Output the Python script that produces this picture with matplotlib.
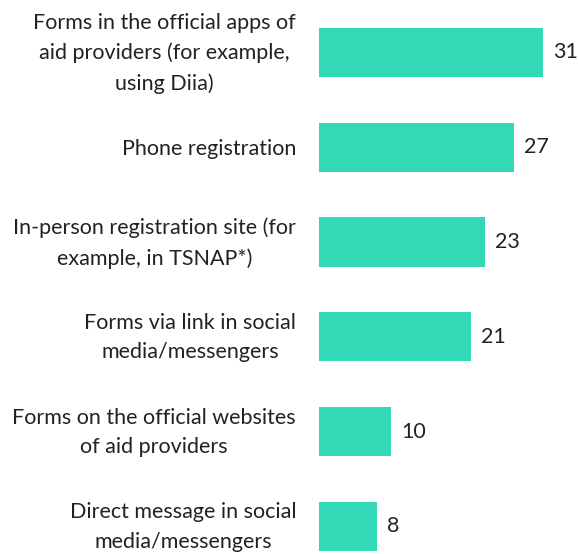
import matplotlib
matplotlib.use("Agg")
import matplotlib.pyplot as plt
from matplotlib.transforms import ScaledTranslation

categories = [
    "Forms in the official apps of\naid providers (for example,\nusing Diia)",
    "Phone registration",
    "In-person registration site (for\nexample, in TSNAP*)",
    "Forms via link in social\nmedia/messengers",
    "Forms on the official websites\nof aid providers",
    "Direct message in social\nmedia/messengers",
]
values = [31, 27, 23, 21, 10, 8]

BAR_COLOR = "#34D8B6"
TEXT_COLOR = "#222222"
FONT = "Lato"

fig = plt.figure(figsize=(5.78, 5.54), dpi=100)
ax = fig.add_axes([319 / 578, 0, 1 - 319 / 578, 1])

y = list(range(len(categories)))
bars = ax.barh(y, values, height=0.52, color=BAR_COLOR, edgecolor="none")

ax.set_xlim(0, 35.8)
ax.set_ylim(5.291, -0.553)

ax.set_yticks(y)
ax.set_yticklabels(categories, fontsize=15.5, family=FONT, color=TEXT_COLOR,
                   multialignment="center", linespacing=1.6)
ax.tick_params(axis="y", length=0, pad=16.5)
ax.set_xticks([])
for s in ax.spines.values():
    s.set_visible(False)

for lbl in ax.get_yticklabels():
    if "\n" in lbl.get_text():
        lbl.set_transform(lbl.get_transform() +
                          ScaledTranslation(0, 6 / 100, fig.dpi_scale_trans))

for bar, v in zip(bars, values):
    ax.annotate(str(v), xy=(bar.get_width(), bar.get_y() + bar.get_height() / 2),
                xytext=(7.2, 0), textcoords="offset points", va="center", ha="left",
                fontsize=15.5, family=FONT, color=TEXT_COLOR)

fig.savefig("out.png", dpi=100)
